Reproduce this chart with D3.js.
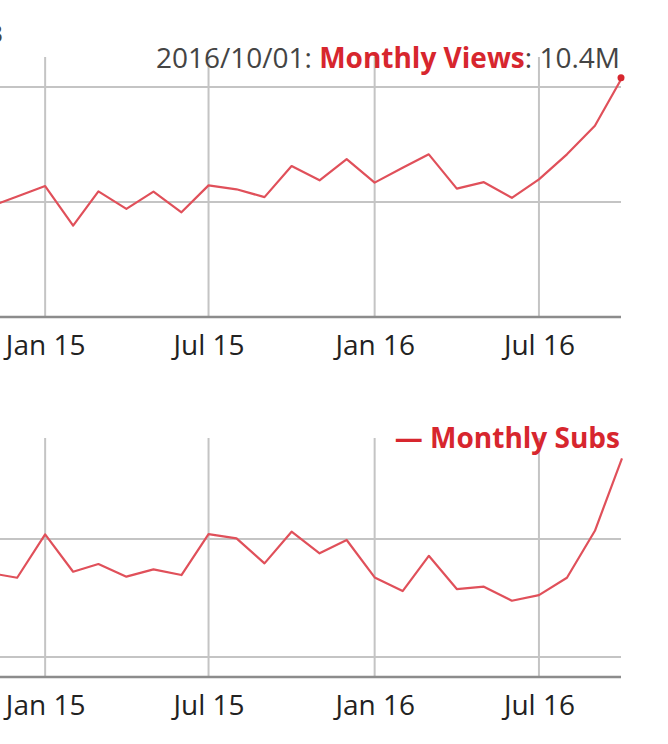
<!DOCTYPE html>
<html>
<head>
<meta charset="utf-8">
<script src="https://cdn.jsdelivr.net/npm/d3@7"></script>
<style>
	body { margin: 0; background: #fff; }
	svg { display: block; font-family: "Open Sans", sans-serif; }
	.grid { stroke: #c4c4c4; stroke-width: 2; }
	.axis path { stroke: #8c8c8c; stroke-width: 2.5; }
	.axis text { font-size: 28px; fill: #222; font-family: "Open Sans", sans-serif; }
	.series { fill: none; stroke: #e0505a; stroke-width: 2.2; stroke-linejoin: round; }
</style>
</head>
<body>
<svg class="chart"></svg>
<script>
// monthly data (first of each month)
const months = [
	"2014-11-01", "2014-12-01", "2015-01-01", "2015-02-01", "2015-03-01", "2015-04-01",
	"2015-05-01", "2015-06-01", "2015-07-01", "2015-08-01", "2015-09-01", "2015-10-01",
	"2015-11-01", "2015-12-01", "2016-01-01", "2016-02-01", "2016-03-01", "2016-04-01",
	"2016-05-01", "2016-06-01", "2016-07-01", "2016-08-01", "2016-09-01", "2016-10-01",
];
// millions
const monthlyViews = [
	4.8, 5.24, 5.69, 3.97, 5.46, 4.7, 5.45, 4.55, 5.72, 5.55, 5.21, 6.56,
	5.94, 6.86, 5.84, 6.49, 7.07, 5.58, 5.86, 5.18, 5.98, 7.07, 8.31, 10.4,
];
// thousands
const monthlySubs = [
	17.12, 16.72, 20.4, 17.23, 17.88, 16.81, 17.43, 16.95, 20.42, 20.06, 17.94, 20.62,
	18.79, 19.92, 16.75, 15.59, 18.58, 15.76, 15.96, 14.77, 15.25, 16.72, 20.7, 26.84,
];
const tickDates = ["2015-01-01", "2015-07-01", "2016-01-01", "2016-07-01"];
const viewsGrid = [5, 10];
const subsGrid = [10, 20];

const size = { w: 668, h: 744 };
const plotRight = 621;
const red = "#d7262e";

const svg = d3.select("svg.chart").attr("width", size.w).attr("height", size.h);
const parse = d3.utcParse("%Y-%m-%d");
const dates = months.map(parse);

// chart is cut off on the left, so the domain starts mid-November
const xScale = d3
	.scaleUtc()
	.domain([parse("2014-11-12"), parse("2016-10-01")])
	.range([0, plotRight + 1]);

svg.append("clipPath")
	.attr("id", "plot-clip")
	.append("rect")
	.attr("x", 0)
	.attr("y", 0)
	.attr("width", plotRight + 2)
	.attr("height", size.h);

// leftover glyph of the cut-off y label
svg.append("text")
	.attr("x", 3)
	.attr("y", 43)
	.attr("text-anchor", "end")
	.attr("font-size", 26)
	.attr("fill", "#444")
	.text("3");

function drawPanel(values, domain, grid, panel) {
	const g = svg.append("g");
	const yScale = d3.scaleLinear().domain(domain).range([panel.bottom, panel.top]);

	tickDates.forEach((d) => {
		g.append("line")
			.classed("grid", true)
			.attr("x1", xScale(parse(d)))
			.attr("x2", xScale(parse(d)))
			.attr("y1", panel.top)
			.attr("y2", panel.bottom);
	});

	grid.forEach((v) => {
		g.append("line")
			.classed("grid", true)
			.attr("x1", 0)
			.attr("x2", plotRight)
			.attr("y1", yScale(v))
			.attr("y2", yScale(v));
	});

	g.append("g")
		.attr("class", "axis")
		.attr("transform", `translate(0,${panel.bottom})`)
		.call(
			d3
				.axisBottom(xScale)
				.tickValues(tickDates.map(parse))
				.tickFormat(d3.utcFormat("%b %y"))
				.tickSize(0)
				.tickSizeOuter(0)
				.tickPadding(18)
		)
		.call((a) => a.select(".domain").attr("d", `M0,0H${plotRight}`));

	const line = d3
		.line()
		.x((d, i) => xScale(dates[i]))
		.y((d) => yScale(d));

	g.append("path")
		.classed("series", true)
		.attr("clip-path", "url(#plot-clip)")
		.attr("d", line(values));

	return yScale;
}

const topPanel = { top: 57, bottom: 317 };
const bottomPanel = { top: 438, bottom: 677 };

const viewsY = drawPanel(monthlyViews, [0, 11.3], viewsGrid, topPanel);
drawPanel(monthlySubs, [8.31, 28.56], subsGrid, bottomPanel);

// highlighted last point + legend of the top chart
const last = monthlyViews.length - 1;
svg.append("circle")
	.attr("cx", xScale(dates[last]) - 1)
	.attr("cy", viewsY(monthlyViews[last]))
	.attr("r", 3.5)
	.attr("fill", red);

const legendTop = svg
	.append("text")
	.attr("x", 620)
	.attr("y", 68)
	.attr("text-anchor", "end")
	.attr("font-size", 28)
	.attr("fill", "#444");
legendTop.append("tspan").text(d3.utcFormat("%Y/%m/%d")(dates[last]) + ": ");
legendTop.append("tspan").attr("fill", red).attr("font-weight", "bold").text("Monthly Views");
legendTop.append("tspan").text(": " + monthlyViews[last] + "M");

svg.append("text")
	.attr("x", 620)
	.attr("y", 448)
	.attr("text-anchor", "end")
	.attr("font-size", 28)
	.attr("font-weight", "bold")
	.attr("fill", red)
	.text("\u2014 Monthly Subs");
</script>
</body>
</html>
